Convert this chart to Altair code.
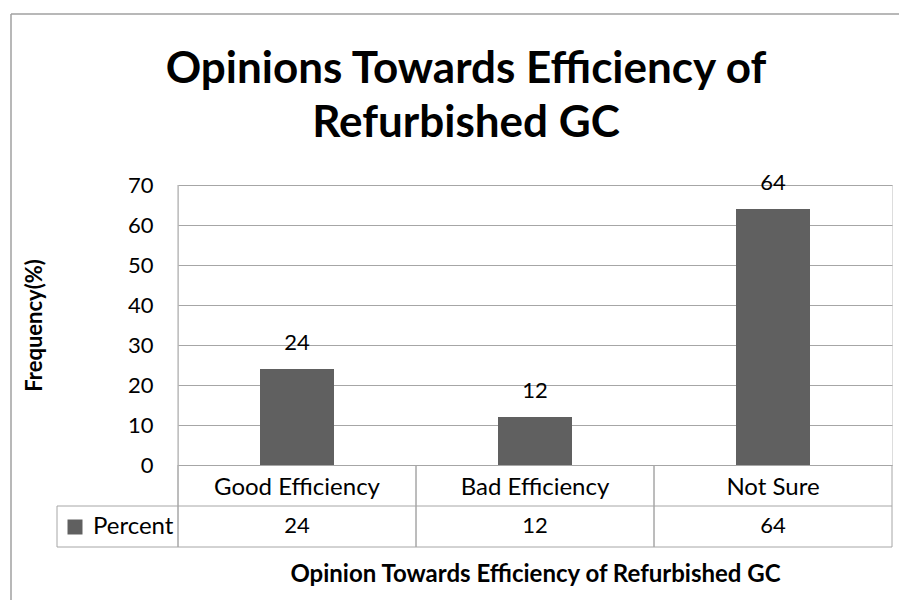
import altair as alt
import pandas as pd

categories = ["Good Efficiency", "Bad Efficiency", "Not Sure"]
percent = [24, 12, 64]
series_name = ["Percent", "Percent", "Percent"]
y_ticks = [0, 10, 20, 30, 40, 50, 60, 70]
title_lines = ["Opinions Towards Efficiency of", "Refurbished GC"]
x_title = "Opinion Towards Efficiency of Refurbished GC"
y_title = "Frequency(%)"

df = pd.DataFrame({"category": categories, "percent": percent, "series": series_name})
one = pd.DataFrame({"k": [0]})

FONT = "Lato"
GRID = "#a6a6a6"
BAR = "#606060"

x_main = alt.X(
    "category:N",
    sort=categories,
    scale=alt.Scale(paddingInner=0, paddingOuter=0),
    axis=alt.Axis(
        title=x_title,
        labelAngle=0,
        ticks=False,
        tickSize=0,
        domain=False,
        labelPadding=22,
        labelBaseline="middle",
        labelFontSize=24,
        labelFont=FONT,
        labelColor="black",
        labelOverlap=False,
        titleFont=FONT,
        titleFontWeight="bold",
        titleFontSize=24,
        titleColor="black",
        titleY=109,
        titleBaseline="middle",
    ),
)
y_main = alt.Y(
    "percent:Q",
    scale=alt.Scale(domain=[0, 70]),
    axis=alt.Axis(
        values=y_ticks,
        tickCount=8,
        title=y_title,
        grid=True,
        gridColor=GRID,
        gridWidth=1,
        domain=False,
        ticks=False,
        tickSize=0,
        labelOverlap=False,
        labelPadding=25,
        labelFontSize=22,
        labelFont=FONT,
        labelColor="black",
        titleFont=FONT,
        titleFontWeight="bold",
        titleFontSize=22,
        titleColor="black",
        titleX=-144,
        titleY=140,
        titleAngle=-90,
        titleAlign="center",
        titleBaseline="middle",
    ),
)

base = alt.Chart(df)

bars = base.mark_bar(size=74).encode(
    x=x_main,
    y=y_main,
    color=alt.Color(
        "series:N",
        scale=alt.Scale(range=[BAR]),
        legend=alt.Legend(
            title=None,
            orient="none",
            legendX=-115,
            legendY=330,
            symbolType="square",
            symbolSize=225,
            symbolStrokeWidth=0,
            labelFontSize=24,
            labelFont=FONT,
            labelColor="black",
            labelOffset=6,
            padding=0,
        ),
    ),
)

bar_labels = base.mark_text(dy=-26, baseline="middle", fontSize=22, font=FONT, color="black").encode(
    x=alt.X("category:N", sort=categories),
    y=alt.Y("percent:Q"),
    text=alt.Text("percent:Q"),
)

table_values = base.mark_text(baseline="middle", fontSize=22, font=FONT, color="black").encode(
    x=alt.X("category:N", sort=categories),
    y=alt.value(341),
    text=alt.Text("percent:Q"),
)

v_left = base.mark_rule(color=GRID, strokeWidth=1).encode(
    x=alt.X("category:N", sort=categories, bandPosition=0),
    y=alt.value(280),
    y2=alt.value(362),
)
v_right = base.mark_rule(color=GRID, strokeWidth=1).encode(
    x=alt.X("category:N", sort=categories, bandPosition=1),
    y=alt.value(280),
    y2=alt.value(362),
)

line_src = alt.Chart(one)
y_axis_line = line_src.mark_rule(color=GRID, strokeWidth=1).encode(
    x=alt.value(0), y=alt.value(0), y2=alt.value(362)
)
h_mid = line_src.mark_rule(color=GRID, strokeWidth=1).encode(
    x=alt.value(-121), x2=alt.value(714), y=alt.value(321)
)
h_bot = line_src.mark_rule(color=GRID, strokeWidth=1).encode(
    x=alt.value(-121), x2=alt.value(714), y=alt.value(362)
)
v_table_left = line_src.mark_rule(color=GRID, strokeWidth=1).encode(
    x=alt.value(-121), y=alt.value(321), y2=alt.value(362)
)
frame_left = line_src.mark_rule(color="#a0a0a0", strokeWidth=1.5).encode(
    x=alt.value(-167), y=alt.value(-171), y2=alt.value(440)
)
frame_top = line_src.mark_rule(color="#a0a0a0", strokeWidth=1.5).encode(
    x=alt.value(-167), x2=alt.value(740), y=alt.value(-171)
)

title1 = line_src.mark_text(
    font=FONT, fontSize=44, fontWeight="bold", align="center", baseline="alphabetic", color="black"
).encode(x=alt.value(288), y=alt.value(-102), text=alt.value(title_lines[0]))
title2 = line_src.mark_text(
    font=FONT, fontSize=44, fontWeight="bold", align="center", baseline="alphabetic", color="black"
).encode(x=alt.value(288), y=alt.value(-48), text=alt.value(title_lines[1]))

chart = alt.layer(
    bars, bar_labels, table_values, v_left, v_right, y_axis_line, h_mid, h_bot,
    v_table_left, frame_left, frame_top, title1, title2,
).properties(
    width=714,
    height=280,
    autosize=alt.AutoSizeParams(type="none"),
    padding={"left": 170, "top": 177, "right": 7, "bottom": 135},
).configure_view(strokeWidth=0).configure(background="white")

chart.save("out.html", embed_options={"renderer": "svg", "actions": False})
